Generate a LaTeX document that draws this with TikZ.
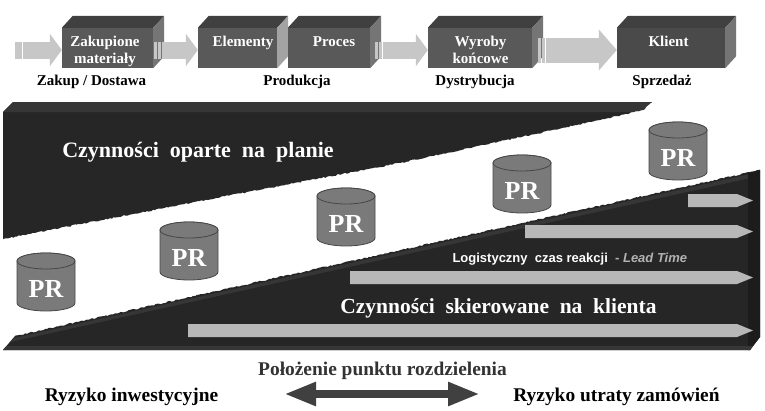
\documentclass[tikz,border=0pt]{standalone}
\usepackage{fontspec}
\setmainfont{Liberation Serif}
\setsansfont{Liberation Sans}
\usetikzlibrary{arrows.meta,decorations.pathmorphing}

\colorlet{box front}{black!65}
\colorlet{box dark}{black!71}
\colorlet{box top}{black!75}
\colorlet{box side}{black!54}
\colorlet{box pale}{black!36}
\colorlet{flow grey}{black!22}
\colorlet{band front}{black!85}
\colorlet{band top}{black!79}
\colorlet{band side}{black!89}
\colorlet{lead grey}{black!30}
\colorlet{cyl fill}{black!52}
\colorlet{cyl edge}{black!72}
\colorlet{risk arrow}{black!75}
\tikzset{box/.style={rectangle, fill=box front, minimum height=40pt, inner sep=0pt},
    boxtext/.style={text=white, font=\fontsize{15}{16.6}\selectfont\bfseries, align=center},
    stage/.style={font=\fontsize{15}{18}\selectfont\bfseries, anchor=base},
    flow/.style={draw=flow grey, line width=17pt, -{Triangle[length=12pt 0, width=32pt 0]}},
    bigflow/.style={draw=flow grey, line width=25pt, -{Triangle[length=18pt 0, width=40pt 0]}},
    torn/.style={decorate, decoration={random steps, segment length=2pt, amplitude=0.7pt}},
    cyl/.style={fill=cyl fill, draw=cyl edge, line width=0.8pt},
    prtext/.style={text=white, font=\fontsize{26}{30}\selectfont\bfseries},
    bandtext/.style={text=white, font=\fontsize{22}{26}\selectfont\bfseries, anchor=base},
    risk/.style={font=\fontsize{19.4}{23}\selectfont\bfseries, anchor=base}}
\def\boxfaces#1#2{%
    \fill[fill=box top] (#1.north west) -- ++(11,-12) -- ([shift={(11,-12)}]#1.north east) -- (#1.north east) -- cycle;
    \fill[fill=#2] (#1.north east) -- ++(11,-12) -- ([shift={(11,-12)}]#1.south east) -- (#1.south east) -- cycle;}
\def\flowstripes#1#2#3{%
    \fill[fill=flow grey] ([shift={(#3+1,2-#2/2)}]#1.east) rectangle ++(3,#2);
    \fill[fill=flow grey] ([shift={(#3+5,2-#2/2)}]#1.east) rectangle ++(3,#2);}
\def\leadbar#1#2{\fill[fill=black!28] (#1,#2-6.5) -- (737,#2-6.5) -- (753,#2) -- (737,#2+6.5) -- (#1,#2+6.5) -- cycle;}
\def\prcyl#1#2#3{%
    \filldraw[cyl] (#2-29,#3+8) -- (#2-29,#3+50) arc[start angle=180, end angle=0, x radius=29, y radius=8]
        -- (#2+29,#3+8) arc[start angle=0, end angle=-180, x radius=29, y radius=8] -- cycle;
    \filldraw[cyl] (#2,#3+8) ellipse [x radius=29, y radius=8];
    \node[prtext] (#1) at (#2,#3+36) {PR};}

\begin{document}
\begin{tikzpicture}[x=1pt,y=-1pt]
    \useasboundingbox (0,0) rectangle (765,410);
    \fill[white] (0,0) rectangle (765,410);
    \pgfmathsetseed{11}
    % upper band
    \begin{scope}
        \clip (3,112) -- (13,102) -- (652,102) -- (652,300) -- (3,300) -- cycle;
        \fill[fill=band front, torn] (0,98) -- (656,98) -- (643,110) -- (600,120) -- (400,163) -- (200,201) -- (3,239) -- (0,240) -- cycle;
    \end{scope}
    \fill[fill=band top] (3,112) -- (13,102) -- (651,102) -- (643,110) -- (632,112) -- cycle;
    % lower band
    \begin{scope}
        \clip (3,350) -- (15,336) -- (15,150) -- (760,150) -- (760,337) -- (750,350) -- cycle;
        \fill[fill=band front, torn] (0,339.3) -- (400,250.2) -- (775,166.7) -- (775,360) -- (0,360) -- cycle;
    \end{scope}
    \fill[fill=band top] (14,338) -- (748,174.5) -- (748,178.5) -- (10.5,342) -- cycle;
    \fill[fill=band side] (748,172.7) -- (760,170) -- (760,337) -- (750,350) -- (748,350) -- cycle;
    \fill[fill=band top] (6.4,346) -- (753,346) -- (750,350) -- (3,350) -- cycle;
    \leadbar{688}{200.5}
    \leadbar{525}{231.5}
    \leadbar{350}{277.5}
    \leadbar{188}{330.5}
    \node[bandtext] (plan) at (198,157) {Czynności\ \ oparte\ \ na\ \ planie};
    \node[bandtext, font=\fontsize{21.5}{26}\selectfont\bfseries] (demand) at (498.5,313) {Czynności\ \ skierowane\ \ na\ \ klienta};
    \node[anchor=base west, text=white, font=\fontsize{13}{15}\selectfont\sffamily\bfseries] (leadtime) at (449,262)
        {Logistyczny\ \ czas reakcji\ \ {\color{lead grey}- \itshape Lead Time}};
    % stock points
    \prcyl{pr1}{46}{253}
    \prcyl{pr2}{189}{222}
    \prcyl{pr3}{346}{188}
    \prcyl{pr4}{522}{155}
    \prcyl{pr5}{678}{122}
    % process chain
    \node[box, minimum width=91pt] (buy) at (107.5,48) {};
    \node[box, minimum width=79pt] (parts) at (237.5,48) {};
    \boxfaces{buy}{box side}
    \boxfaces{parts}{box pale}
    \node[box, minimum width=82pt] (proc) at (329,48) {};
    \node[box, minimum width=104pt] (goods) at (480,48) {};
    \node[box, fill=box dark, minimum width=108pt] (client) at (671,48) {};
    \boxfaces{proc}{box side}
    \boxfaces{goods}{box side}
    \boxfaces{client}{box side}
    \node[boxtext] (buytext) at (105,51.6) {Zakupione\\materiały};
    \node[boxtext, anchor=base] (partstext) at (243,46.7) {Elementy};
    \node[boxtext, anchor=base] (proctext) at (334,46.7) {Proces};
    \node[boxtext] (goodstext) at (480.5,50) {Wyroby\\końcowe};
    \node[boxtext, anchor=base] (clienttext) at (668.5,46.7) {Klient};
    \coordinate (src) at (23,50);
    \fill[fill=flow grey] (15,41.5) rectangle (22,58.5);
    \draw[flow] (src) -- ([yshift=-2pt]buy.west);
    \flowstripes{buy}{17}{0}
    \draw[flow] ([shift={(9,2)}]buy.east) -- ([yshift=-2pt]parts.west);
    \flowstripes{proc}{17}{4}
    \draw[flow] ([shift={(13,2)}]proc.east) -- ([yshift=-2pt]goods.west);
    \flowstripes{goods}{25}{5}
    \draw[bigflow] ([shift={(14,2)}]goods.east) -- ([yshift=-2pt]client.west);
    \node[stage] (purchase) at (91.5,85) {Zakup / Dostawa};
    \node[stage] (production) at (297,85) {Produkcja};
    \node[stage] (distribution) at (475,85) {Dystrybucja};
    \node[stage] (sales) at (662,85) {Sprzedaż};
    % decoupling point
    \node[risk, text=black!80] (decoupling) at (382.5,375) {Położenie punktu rozdzielenia};
    \node[risk] (invest) at (131.5,401) {Ryzyko inwestycyjne};
    \node[risk] (orders) at (616.5,401) {Ryzyko utraty zamówień};
    \coordinate (riskleft) at (284,394);
    \coordinate (riskright) at (480,394);
    \draw[draw=risk arrow, line width=8pt, {Triangle[length=32pt 0, width=22pt 0]}-{Triangle[length=32pt 0, width=22pt 0]}] (riskleft) -- (riskright);
\end{tikzpicture}
\end{document}
